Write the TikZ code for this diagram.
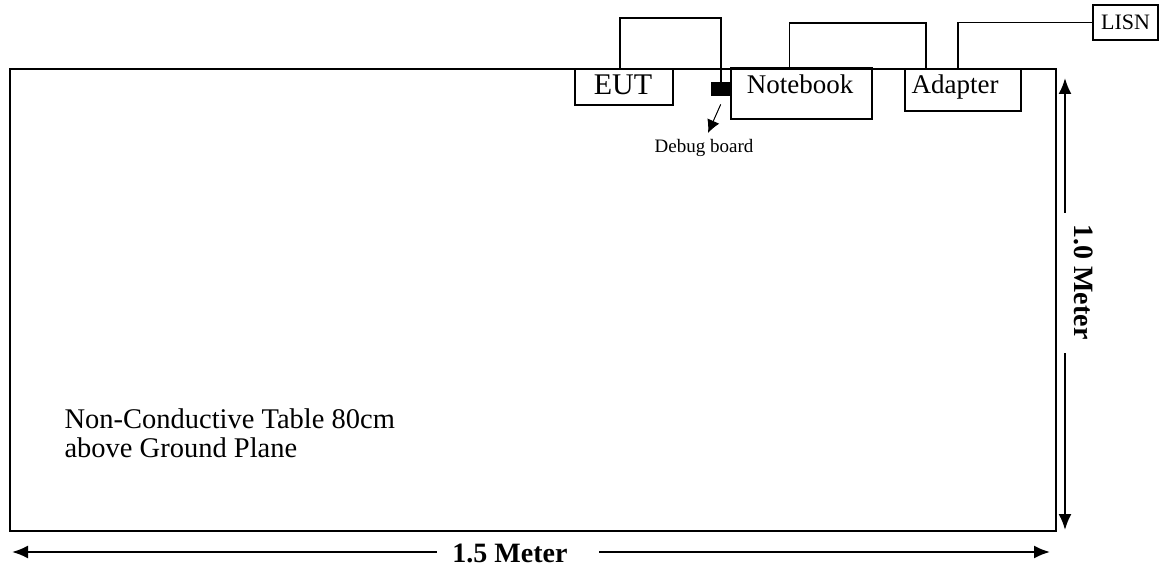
\documentclass[tikz,border=0pt]{standalone}
\usepackage{fontspec}
\setmainfont{Liberation Serif}
\usetikzlibrary{arrows.meta,positioning}

\tikzset{
  box/.style={draw, line width=1.6pt, inner sep=0pt},
  cable/.style={line width=1.6pt},
  dimarr/.style={line width=2pt, -{Latex[length=16pt,width=13pt]}},
}

\begin{document}
\begin{tikzpicture}[x=1pt, y=-1pt]
    % Page frame
    \useasboundingbox (0,0) rectangle (1164,569);

    % The table
    \node[box, line width=2pt, anchor=north west, minimum width=1046pt, minimum height=462pt] (table) at (9,68) {};
    \node[anchor=base west, align=left, font=\fontsize{28.5}{29}\selectfont] (tabletext) at (61,457)
        {Non-Conductive Table 80cm\\above Ground Plane};

    % Units on the table
    \node[box, anchor=north west, minimum width=98pt, minimum height=36pt] (eut) at (574,68) {};
    \node[font=\fontsize{30}{30}\selectfont, anchor=base] (euttext) at (623,95) {EUT};
    \node[draw, fill=black, anchor=north west, minimum width=19pt, minimum height=13pt, inner sep=0pt] (debug) at (711,82) {};
    \node[box, anchor=north west, minimum width=141pt, minimum height=51pt] (notebook) at (730,67) {};
    \node[font=\fontsize{27}{28}\selectfont, anchor=base] (nbtext) at (800,94) {Notebook};
    \node[box, anchor=north west, minimum width=116pt, minimum height=42pt] (adapter) at (904,68) {};
    \node[font=\fontsize{27}{28}\selectfont, anchor=base west] (adtext) at (908,94) {Adapter};
    \node[box, minimum width=65pt, minimum height=35pt, font=\fontsize{22}{22}\selectfont] (lisn) at (1125.5,22.5) {LISN};

    % Cables
    \draw[cable] ([xshift=-4pt]eut.north) -- ++(0,-50) -| (debug.north);
    \draw[cable] ([xshift=-12pt]notebook.north) -- ++(0,-44) -| ([xshift=-37pt]adapter.north);
    \draw[cable] ([xshift=-5pt]adapter.north) |- (lisn.west);

    % Debug board label
    \node[font=\fontsize{19}{20}\selectfont, anchor=base] (dbg) at (704,153) {Debug board};
    \draw[line width=1pt, -{Latex[length=13pt,width=13pt]}] ([yshift=-9pt]debug.south) -- (708,133);

    % Dimensions
    \node[font=\bfseries\fontsize{28}{28}\selectfont] (wlabel) at (510,553) {1.5 Meter};
    \coordinate (wl) at (12,552);
    \coordinate (wr) at (1050,552);
    \draw[dimarr] (wlabel.west) ++(-12,-1) -- (wl);
    \draw[dimarr] (wlabel.east) ++(28,-1) -- (wr);

    \node[font=\bfseries\fontsize{28}{28}\selectfont, rotate=-90] (hlabel) at (1084,282) {1.0 Meter};
    \coordinate (ht) at (1065,78);
    \coordinate (hb) at (1065,530);
    \draw[dimarr] (1065,213) -- (ht);
    \draw[dimarr] (1065,353) -- (hb);
\end{tikzpicture}
\end{document}
